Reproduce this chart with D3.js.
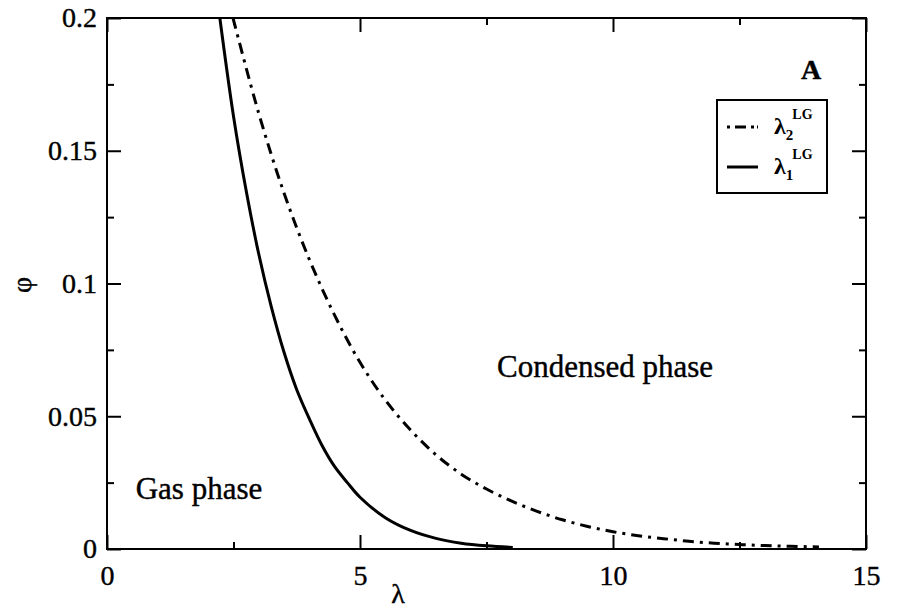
<!DOCTYPE html>
<html><head><meta charset="utf-8">
<script src="https://cdn.jsdelivr.net/npm/d3@7"></script>
</head>
<body style="margin:0;background:#fff"><svg id="c" width="898" height="614"></svg>
<script>
// data
const lambda1X = [2.23, 2.5, 2.75, 3.0, 3.25, 3.5, 3.75, 4.0, 4.25, 4.5, 4.75, 5.0, 5.5, 6.0, 6.5, 7.0, 7.5, 8.02];
const lambda1Y = [0.200, 0.163, 0.135, 0.111, 0.091, 0.074, 0.060, 0.049, 0.039, 0.031, 0.025, 0.0195, 0.0118, 0.0070, 0.0040, 0.0022, 0.0012, 0.0006];
const lambda2X = [2.49, 3.0, 3.5, 4.0, 4.5, 5.0, 5.5, 6.0, 6.5, 7.0, 7.5, 8.0, 8.5, 9.0, 9.5, 10.0, 10.5, 11.0, 11.5, 12.0, 12.5, 13.0, 13.5, 14.07];
const lambda2Y = [0.200, 0.164, 0.134, 0.109, 0.088, 0.0703, 0.0561, 0.0448, 0.0355, 0.0282, 0.0226, 0.0180, 0.0142, 0.0110, 0.0085, 0.0065, 0.0050, 0.0039, 0.0029, 0.0022, 0.0017, 0.0013, 0.0010, 0.0008];
const xTicks = [0, 5, 10, 15];
const xMinor = [2.5, 7.5, 12.5];
const yTicks = [0, 0.05, 0.1, 0.15, 0.2];
const yTickLabels = ["0", "0.05", "0.1", "0.15", "0.2"];
const yMinor = [0.025, 0.075, 0.125, 0.175];
const legendLabels = [{base:"λ", sub:"2", sup:"LG", dashed:true}, {base:"λ", sub:"1", sup:"LG", dashed:false}];

const FONT = '"Liberation Serif"';
const svg = d3.select("#c");
const L = 107, R = 866, T = 18, B = 549;
const x = d3.scaleLinear().domain([0, 15]).range([L, R]);
const y = d3.scaleLinear().domain([0, 0.2]).range([B, T]);

svg.append("rect").attr("x", L).attr("y", T).attr("width", R - L).attr("height", B - T)
  .attr("fill", "none").attr("stroke", "#000").attr("stroke-width", 2);

const MAJ = 14, MIN = 7;
function axisG(gen, tr) {
  const g = svg.append("g").attr("transform", tr).call(gen);
  g.attr("font-family", null);
  g.select(".domain").remove();
  g.selectAll(".tick line").attr("stroke-width", 2);
  g.selectAll(".tick text").style("font-family", FONT).style("font-size", "28px").attr("fill", "#000")
    .attr("stroke", "#000").attr("stroke-width", 0.4);
  return g;
}
axisG(d3.axisBottom(x).tickValues(xTicks).tickSize(-MAJ).tickPadding(16).tickFormat(d3.format("d")), `translate(0,${B})`);
axisG(d3.axisBottom(x).tickValues(xMinor).tickSize(-MIN).tickFormat(""), `translate(0,${B})`);
axisG(d3.axisTop(x).tickValues(xTicks).tickSize(-MAJ).tickFormat(""), `translate(0,${T})`);
axisG(d3.axisTop(x).tickValues(xMinor).tickSize(-MIN).tickFormat(""), `translate(0,${T})`);
axisG(d3.axisLeft(y).tickValues(yTicks).tickSize(-MAJ).tickPadding(10).tickFormat((d, i) => yTickLabels[i]), `translate(${L},0)`);
axisG(d3.axisLeft(y).tickValues(yMinor).tickSize(-MIN).tickFormat(""), `translate(${L},0)`);
axisG(d3.axisRight(y).tickValues(yTicks).tickSize(-MAJ).tickFormat(""), `translate(${R},0)`);
axisG(d3.axisRight(y).tickValues(yMinor).tickSize(-MIN).tickFormat(""), `translate(${R},0)`);

// curves
const line = d3.line().x(d => x(d[0])).y(d => y(d[1])).curve(d3.curveCatmullRom.alpha(0.5));
svg.append("path").datum(d3.zip(lambda2X, lambda2Y)).attr("d", line)
  .attr("fill", "none").attr("stroke", "#000").attr("stroke-width", 3).attr("stroke-dasharray", "11,6,3,6");
svg.append("path").datum(d3.zip(lambda1X, lambda1Y)).attr("d", line)
  .attr("fill", "none").attr("stroke", "#000").attr("stroke-width", 3);

function txt(xx, yy, s, size, weight, anchor) {
  return svg.append("text").attr("x", xx).attr("y", yy).attr("text-anchor", anchor || "middle")
    .style("font-family", FONT).style("font-size", size + "px").style("font-weight", weight || "normal")
    .attr("stroke", "#000").attr("stroke-width", 0.4).text(s);
}
txt(398, 603, "λ", 28);
svg.append("text").attr("transform", "translate(31,285) rotate(-90)").attr("text-anchor", "middle")
  .style("font-family", FONT).style("font-size", "28px").attr("stroke", "#000").attr("stroke-width", 0.4).text("φ");
txt(811, 79, "A", 28, "bold");
txt(605, 377, "Condensed phase", 31, "normal");
txt(199, 499, "Gas phase", 31, "normal");

// legend
const lg = svg.append("g");
lg.append("rect").attr("x", 717).attr("y", 100).attr("width", 110).attr("height", 93).attr("fill", "#fff").attr("stroke", "#000").attr("stroke-width", 2);
legendLabels.forEach((d, i) => {
  const yy = 127 + i * 40;
  const ln = lg.append("line").attr("x1", 727).attr("x2", 758).attr("y1", yy).attr("y2", yy).attr("stroke", "#000").attr("stroke-width", 3);
  if (d.dashed) ln.attr("stroke-dasharray", "3,5,11,5,3");
  const t = lg.append("text").attr("x", 774).attr("y", yy + 7).style("font-family", FONT).style("font-size", "24px").style("font-weight", "bold");
  t.append("tspan").text(d.base);
  t.append("tspan").style("font-size", "15px").attr("dy", 6).text(d.sub);
  t.append("tspan").style("font-size", "14px").attr("dy", -21).attr("dx", -1).text(d.sup);
});
</script></body></html>
